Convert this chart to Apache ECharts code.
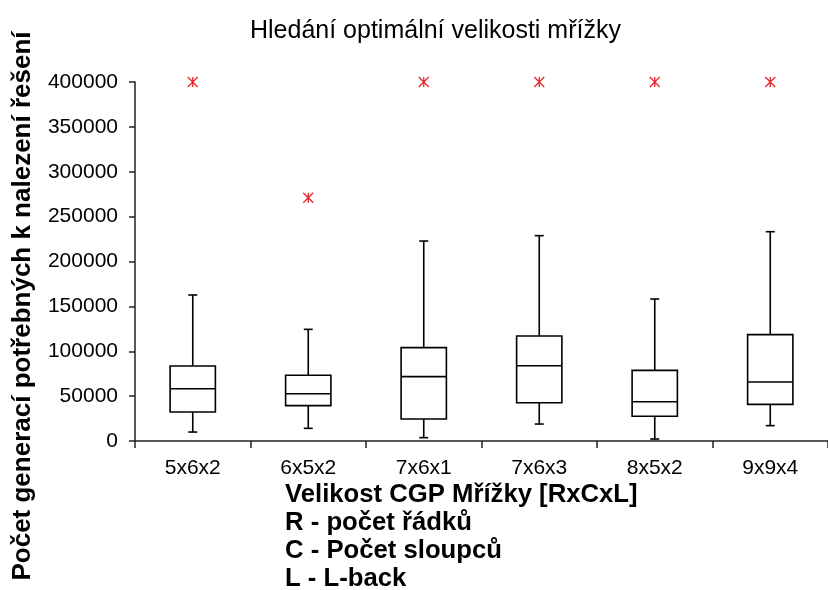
<!DOCTYPE html>
<html><head><meta charset="utf-8">
<script src="https://cdn.jsdelivr.net/npm/echarts@6/dist/echarts.min.js"></script>
<style>html,body{margin:0;padding:0;background:#fff}#c{width:828px;height:590px}</style>
</head><body><div id="c"></div>
<script>
// ---- data ----
const categories  = ['5x6x2', '6x5x2', '7x6x1', '7x6x3', '8x5x2', '9x9x4'];
const whiskerLow  = [10000, 14100, 3700, 18900, 2200, 17100];
const q1          = [32300, 39400, 24500, 42700, 27500, 40800];
const median      = [58300, 52700, 71700, 83900, 43800, 65700];
const q3          = [83600, 73200, 104000, 117000, 78700, 118500];
const whiskerHigh = [162700, 124400, 222800, 228800, 158200, 233200];
const outliers    = [400000, 271000, 400000, 400000, 400000, 400000];
const yMin = 0, yMax = 400000, yStep = 50000;

const titleText  = 'Hledání optimální velikosti mřížky';
const yTitle     = 'Počet generací potřebných k nalezení řešení';
const xTitleLines = ['Velikost CGP Mřížky [RxCxL]', 'R - počet řádků', 'C - Počet sloupců', 'L - L-back'];

const FONT = '"Liberation Sans", Arial, sans-serif';
const chart = echarts.init(document.getElementById('c'), null, {renderer: 'canvas'});

const boxData = categories.map((c, i) => [i, whiskerLow[i], q1[i], median[i], q3[i], whiskerHigh[i]]);
const outlierData = outliers.map((v, i) => [i, v]);

chart.setOption({
  backgroundColor: '#fff',
  animation: false,
  title: {
    text: titleText, left: 245, top: 14,
    textStyle: {fontFamily: FONT, fontSize: 25, fontWeight: 'normal', color: '#000'}
  },
  grid: {left: 135, top: 82, width: 704, height: 359, containLabel: false},
  xAxis: {
    type: 'category', data: categories, boundaryGap: true,
    axisLine: {lineStyle: {color: '#222', width: 1.5}},
    axisTick: {show: true, length: 7, lineStyle: {color: '#222', width: 1.5}},
    axisLabel: {fontFamily: FONT, fontSize: 21, color: '#000', margin: 17},
    splitLine: {show: false}
  },
  yAxis: {
    type: 'value', min: yMin, max: yMax, interval: yStep,
    axisLine: {show: true, lineStyle: {color: '#222', width: 1.5}},
    axisTick: {show: true, length: 6, lineStyle: {color: '#222', width: 1.5}},
    axisLabel: {fontFamily: FONT, fontSize: 21, color: '#000', margin: 17, formatter: v => String(v)},
    splitLine: {show: false}
  },
  graphic: [
    {
      type: 'text', x: 23, y: 306, rotation: Math.PI / 2,
      style: {text: yTitle, font: 'bold 26px ' + FONT, fill: '#000', align: 'center', verticalAlign: 'middle'}
    },
    {
      type: 'text', x: 285, y: 481,
      style: {text: xTitleLines.join('\n'), font: 'bold 25.7px ' + FONT, lineHeight: 28, fill: '#000', align: 'left', verticalAlign: 'top'}
    }
  ],
  series: [
    {
      type: 'custom',
      data: boxData,
      encode: {x: 0, y: [1, 2, 3, 4, 5]},
      renderItem: function (params, api) {
        const i = api.value(0);
        const lo = api.coord([i, api.value(1)]);
        const b1 = api.coord([i, api.value(2)]);
        const md = api.coord([i, api.value(3)]);
        const b3 = api.coord([i, api.value(4)]);
        const hi = api.coord([i, api.value(5)]);
        const band = api.size([1, 0])[0];
        const hw = band * 0.196;
        const cw = 4.5;
        const x = lo[0];
        const st = {stroke: '#000', lineWidth: 1.6, fill: null};
        return {
          type: 'group',
          children: [
            {type: 'line', shape: {x1: x, y1: b3[1], x2: x, y2: hi[1]}, style: st},
            {type: 'line', shape: {x1: x, y1: b1[1], x2: x, y2: lo[1]}, style: st},
            {type: 'line', shape: {x1: x - cw, y1: hi[1], x2: x + cw, y2: hi[1]}, style: st},
            {type: 'line', shape: {x1: x - cw, y1: lo[1], x2: x + cw, y2: lo[1]}, style: st},
            {type: 'rect', shape: {x: x - hw, y: b3[1], width: 2 * hw, height: b1[1] - b3[1]}, style: {stroke: '#000', lineWidth: 1.6, fill: '#fff'}},
            {type: 'line', shape: {x1: x - hw, y1: md[1], x2: x + hw, y2: md[1]}, style: st}
          ]
        };
      }
    },
    {
      type: 'scatter',
      data: outlierData,
      symbol: 'path://M0,0L10,10M10,0L0,10M5,0L5,10',
      symbolSize: 10,
      itemStyle: {color: 'rgba(0,0,0,0)', borderColor: '#e8262c', borderWidth: 1.3, opacity: 1}
    }
  ]
});
</script>
</body></html>
